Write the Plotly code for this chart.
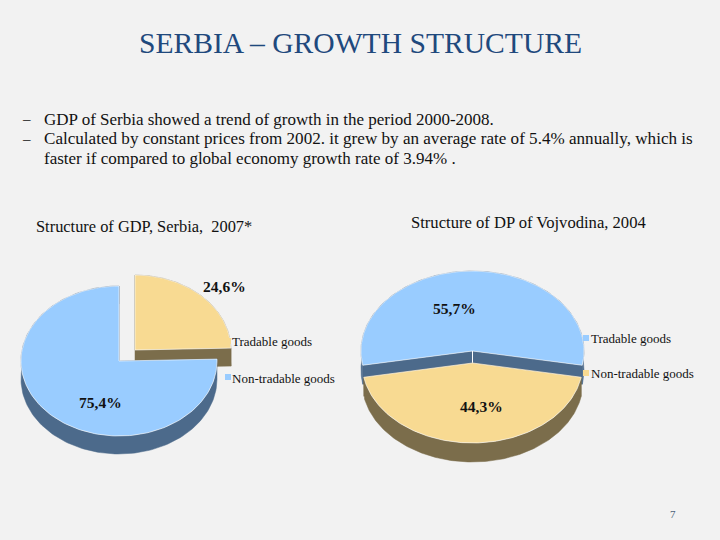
import numpy as np
import plotly.graph_objects as go

# ---- data ----
categories = ["Tradable goods", "Non-tradable goods"]
serbia_values = [24.6, 75.4]
vojvodina_values = [55.7, 44.3]
serbia_labels = ["24,6%", "75,4%"]
vojvodina_labels = ["55,7%", "44,3%"]
page_title = "SERBIA – GROWTH STRUCTURE"
body_lines = [
    "GDP of Serbia showed a trend of growth in the period 2000-2008.",
    "Calculated by constant prices from 2002. it grew by an average rate of 5.4% annually, which is",
    "faster if compared to global economy growth rate of 3.94% .",
]
chart_titles = ["Structure of GDP, Serbia,  2007*", "Structure of DP of Vojvodina, 2004"]

# ---- style ----
BG = "#f2f2f2"
BLUE, BLUE_D = "#99ccff", "#4c6a8b"
TAN, TAN_D = "#f8da92", "#7b6d4b"
FONT = "Liberation Serif"
INK = "#111111"

fig = go.Figure()


def arc(c, rx, ry, a0, a1, dy=0):
    t = np.radians(np.linspace(a0, a1, 160))
    return c[0] + rx * np.sin(t), c[1] - ry * np.cos(t) + dy


def wedge(name, value_start, value_end, rot, c, rx, ry, depth, fill, dark):
    a0, a1 = rot + value_start * 3.6, rot + value_end * 3.6
    ax, ay = arc(c, rx, ry, a0, a1)
    bx, by = arc(c, rx, ry, a0, a1, depth)
    # outer side ribbon
    fig.add_trace(go.Scatter(
        x=np.r_[ax, bx[::-1]], y=np.r_[ay, by[::-1]], mode="lines", fill="toself",
        fillcolor=dark, line=dict(color=dark, width=0.5), hoverinfo="skip", showlegend=False))
    # the two cut walls
    for i in (0, -1):
        fig.add_trace(go.Scatter(
            x=[c[0], ax[i], bx[i], c[0]], y=[c[1], ay[i], by[i], c[1] + depth], mode="lines",
            fill="toself", fillcolor=dark, line=dict(color=dark, width=0.5),
            hoverinfo="skip", showlegend=False))
    # top face
    fig.add_trace(go.Scatter(
        x=np.r_[c[0], ax, c[0]], y=np.r_[c[1], ay, c[1]], mode="lines", fill="toself",
        fillcolor=fill, line=dict(color="white", width=0.6), name=name,
        hoverinfo="name", showlegend=False))


def text(x, y, s, size, anchor="left", color=INK, bold=False):
    fig.add_annotation(x=x, y=y, text=f"<b>{s}</b>" if bold else s, showarrow=False,
                       xanchor=anchor, yanchor="middle", borderpad=0, borderwidth=0,
                       font=dict(family=FONT, size=size, color=color))


# Left pie: Tradable is exploded and lies behind
s = serbia_values
wedge(categories[0], 0, s[0], 0, (135, 350), 96, 75, 18, TAN, TAN_D)
wedge(categories[1], s[0], s[0] + s[1], 0, (119, 361), 98, 75, 18, BLUE, BLUE_D)

# Right pie: first slice centred on the top
v = vojvodina_values
rot = -v[0] * 3.6 / 2
wedge(categories[0], 0, v[0], rot, (472.5, 351), 111.5, 80, 19, BLUE, BLUE_D)
fig.add_trace(go.Scatter(x=[472.5, 472.5], y=[351, 370], mode="lines",
                         line=dict(color="white", width=1), hoverinfo="skip", showlegend=False))
wedge(categories[1], v[0], v[0] + v[1], rot, (472.5, 363), 110.5, 80, 19, TAN, TAN_D)

# Legend swatches
fig.add_trace(go.Scatter(x=[228, 228, 586, 586], y=[341, 377, 338, 373], mode="markers",
                         marker=dict(symbol="square", size=6,
                                     color=[TAN, BLUE, BLUE, TAN]),
                         hoverinfo="skip", showlegend=False))

# Texts
text(360, 43, page_title, 29.6, "center", "#1f497d")
text(22, 119, "–", 15)
text(22, 139, "–", 15)
text(44, 119, body_lines[0], 17)
text(44, 138.5, body_lines[1], 17.1)
text(44, 158, body_lines[2], 17)
text(36, 226, chart_titles[0], 16.4)
text(411, 222, chart_titles[1], 16.6)
text(224, 286, serbia_labels[0], 15.5, "center", bold=True)
text(100, 402, serbia_labels[1], 15.5, "center", bold=True)
text(454, 308, vojvodina_labels[0], 15.5, "center", bold=True)
text(481, 406, vojvodina_labels[1], 15.5, "center", bold=True)
text(232, 341, categories[0], 13)
text(232, 378, categories[1], 13)
text(591, 338, categories[0], 13)
text(591, 373, categories[1], 13)
text(673, 514, "7", 11, "center", "#4a5f78")

fig.update_layout(
    width=720, height=540, margin=dict(l=0, r=0, t=0, b=0),
    paper_bgcolor=BG, plot_bgcolor=BG, showlegend=False,
    xaxis=dict(range=[0, 720], visible=False, fixedrange=True),
    yaxis=dict(range=[540, 0], visible=False, fixedrange=True),
)
fig.write_html("out.html", config=dict(displayModeBar=False),
               post_script="document.body.style.margin='0';document.body.style.background='#f2f2f2';")
